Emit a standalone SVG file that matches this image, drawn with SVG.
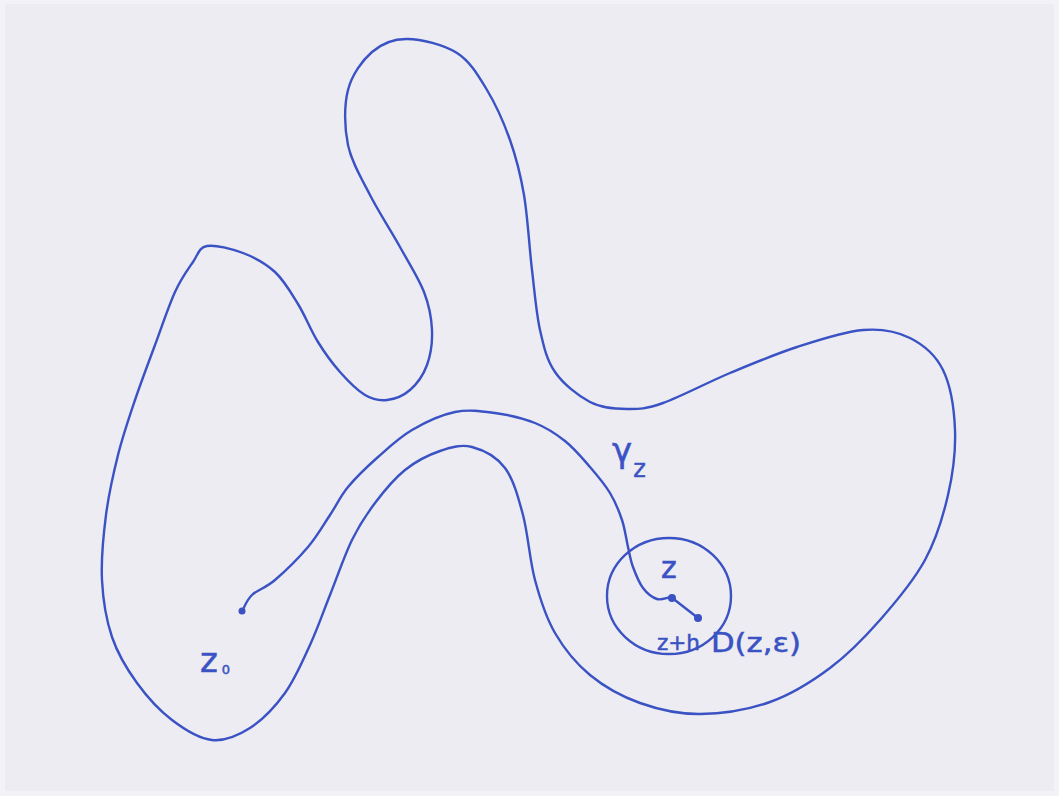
<svg xmlns="http://www.w3.org/2000/svg" width="1059" height="796" viewBox="0 0 1059 796">
<style>
.ink{fill:none;stroke:#3a52c4;stroke-width:2.4;stroke-linecap:round;stroke-linejoin:round}
.lbl{fill:#3a52c4;stroke:#3a52c4;stroke-width:0.5;font-family:"DejaVu Sans","Liberation Sans",sans-serif}
.dot{fill:#3a52c4}
</style>
<rect x="0" y="0" width="1059" height="796" fill="#f3f3f7"/>
<rect x="5" y="4" width="1049" height="787" fill="#ececf2"/>
<g id="domain">
<path class="ink" d="M207,246 C215.3,244.5 231.7,248.7 243,253 S265.8,263.5 275,272 S290.8,292.3 298,304 S311,330.7 318,342 S332.2,363.2 340,372 S357.2,390.3 365,395 S379.5,400.8 387,400 S403.3,395.8 410,390 S423.3,375 427,365 S432.5,342.2 432,330 S429.3,305.8 424,292 S409,263.2 400,247 S378.7,212 370,195 S351.7,162.5 348,145 S344,105.5 348,90 S362.2,60.5 372,52 S392.8,38.8 407,39 S443.7,44.5 457,53 S478.2,75.5 487,90 S503.8,122.5 510,140 S520.3,173.3 524,195 S529.3,247.5 532,270 S536.2,313 540,330 S546.7,360 555,372 S578,395.8 590,402 S614.8,408.8 627,409 S645.8,409 663,403 S707.7,382.3 730,373 S774.8,354.2 797,347 S844.2,331.5 863,330 S896.7,331.3 910,338 S935.5,354.7 943,370 S954.2,409.2 955,430 S953,473.3 948,495 S936.3,539.2 925,560 S895.8,602 880,620 S848.3,654.3 830,668 S791.7,694.3 770,702 S721.7,713.8 700,714 S658.3,709.5 640,703 S604.2,686.7 590,675 S564.2,648.8 555,633 S540.3,599.7 535,580 S528,533.7 523,515 S513.5,479.3 505,468 S482.8,449.8 472,447 S451.2,447.2 440,451 S415.8,461.3 405,470 S383.8,491.3 375,503 S359.5,524.7 352,540 S337,577.5 330,595 S317.5,628.7 310,645 S295,679.2 285,693 S262.2,720.2 250,728 S225,741.3 212,740 S184.5,729.5 172,720 S147,696.8 137,683 S117.8,654.2 112,637 S103,600.3 102,580 S103.3,535.8 106,515 S113.2,474.2 118,455 S128.8,418.3 135,400 S148.3,363 155,345 S168.7,305.8 175,292 S187.7,269.7 193,262 S198.7,247.5 207,246 Z"/>
</g>
<g id="disc">
<ellipse class="ink" cx="669" cy="596" rx="62" ry="58"/>
</g>
<g id="connectors">
<path id="gamma-path" class="ink" d="M242,611 C245.3,605.7 246.5,600.2 252,595 S265.7,588 275,580 S298.8,557.8 308,547 S323.3,525 330,515 S340,496.7 348,487 S367.3,466.5 378,457 S399.2,437.5 412,430 S441.2,414.8 455,412 S481.7,411.2 495,413 S523.3,418.3 535,423 S555.8,433.7 565,441 S582.5,458.3 590,467 S604.7,484.2 610,493 S619,511 622,520 S626.2,539.2 628,547 S630.5,560.2 633,567 S639,582.7 643,588 S652.3,597.5 657,599 S666.3,597.7 671,597"/>
<path id="h-segment" class="ink" d="M671,597 L698,618"/>
</g>
<g id="point-z0"><circle class="dot" cx="242" cy="611" r="3.5"/></g>
<g id="point-z"><circle class="dot" cx="672" cy="598" r="4"/></g>
<g id="point-zh"><circle class="dot" cx="698" cy="618" r="4"/></g>
<g id="labels">
<text class="lbl" x="200" y="672" font-size="34">z<tspan font-size="13" dx="4" dy="2">0</tspan></text>
<text class="lbl" x="612" y="462" font-size="34">γ<tspan font-size="24" dx="1" dy="15">z</tspan></text>
<text class="lbl" x="661" y="578" font-size="30">z</text>
<text class="lbl" x="657" y="650" font-size="21" textLength="43" lengthAdjust="spacingAndGlyphs">z+h</text>
<text class="lbl" x="711" y="652" font-size="26" textLength="90" lengthAdjust="spacingAndGlyphs">D(z,ε)</text>
</g>
</svg>
